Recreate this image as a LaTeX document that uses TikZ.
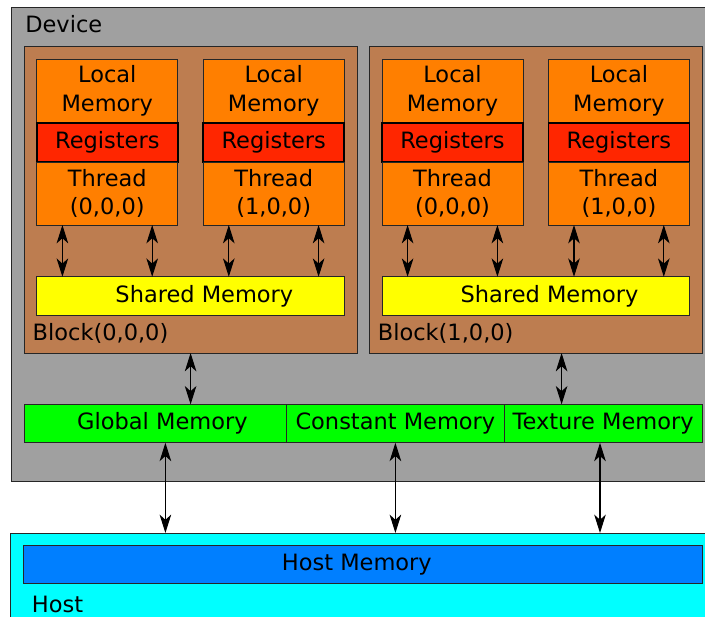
\documentclass[tikz,border=0pt]{standalone}
\usepackage{fontspec}
\setmainfont{DejaVu Sans}
\usetikzlibrary{positioning,arrows.meta}
\definecolor{devgray}{RGB}{160,160,160}
\definecolor{blockbrown}{RGB}{189,125,80}
\definecolor{threadorange}{RGB}{255,127,0}
\definecolor{regred}{RGB}{255,38,0}
\definecolor{sharedyellow}{RGB}{255,255,0}
\definecolor{globgreen}{RGB}{0,255,0}
\definecolor{hostcyan}{RGB}{0,255,255}
\definecolor{hostblue}{RGB}{0,127,255}
\begin{document}
\begin{tikzpicture}[
  box/.style={draw=black!85, line width=0.7pt, inner sep=0pt, outer sep=0pt, anchor=north west},
  link/.style={{Stealth[length=4.6mm,width=2.9mm,inset=1.3mm]}-{Stealth[length=4.6mm,width=2.9mm,inset=1.3mm]}, line width=0.75pt},
  font=\fontsize{16}{20.5}\selectfont]
\useasboundingbox (0,0) rectangle (17.625,-15.425);

\node[box, fill=devgray, minimum width=17.8cm, minimum height=11.84cm] (dev) at (0.275,-0.19) {};
\node[anchor=base west, inner sep=0pt] (devlbl) at (0.625,-0.825) {Device};

\node[box, fill=hostcyan, minimum width=17.8cm, minimum height=3cm] (host) at (0.27,-13.325) {};
\node[box, fill=hostblue, minimum width=16.975cm, minimum height=0.96cm] (hm) at (0.585,-13.63) {Host Memory\hspace*{0.3cm}};
\node[anchor=base west, inner sep=0pt] (hostlbl) at (0.79,-15.32) {Host};

\foreach \b/\x in {0/0.6, 1/9.23} {
  \node[box, fill=blockbrown, minimum width=8.33cm, minimum height=7.675cm] (blk\b) at (\x,-1.15) {};
  \node[anchor=base west, inner sep=0pt] (blklbl\b) at (\x+0.21,-8.525) {Block(\b,0,0)};
  \node[box, fill=sharedyellow, minimum width=7.68cm, minimum height=0.96cm] (sh\b) at (\x+0.32,-6.92) {\hspace*{0.7cm}Shared Memory};
  \foreach \t/\dx in {0/0.32, 1/4.48} {
    \node[box, fill=threadorange, minimum width=3.525cm, minimum height=1.59cm, align=center] (lm\b\t) at (\x+\dx,-1.48) {Local\\Memory};
    \node[box, fill=regred, draw=black, line width=1.1pt, minimum width=3.525cm, minimum height=0.98cm, below=0pt of lm\b\t] (rg\b\t) {Registers};
    \node[box, fill=threadorange, minimum width=3.525cm, minimum height=1.575cm, align=center, below=0pt of rg\b\t] (th\b\t) {Thread\\(\t,0,0)};
    \foreach \s/\a in {0.64/south west, -0.64/south east} {
      \coordinate (p) at ([xshift=\s cm]th\b\t.\a);
      \draw[link] (p) -- (p |- sh\b.north);
    }
  }
}

\node[box, fill=globgreen, minimum width=6.57cm, minimum height=0.96cm] (glob) at (0.6,-10.11) {\hspace*{0.35cm}Global Memory};
\node[box, fill=globgreen, minimum width=5.43cm, minimum height=0.96cm, right=0pt of glob] (const) {Constant Memory};
\node[box, fill=globgreen, minimum width=4.96cm, minimum height=0.96cm, right=0pt of const] (tex) {Texture Memory};

\coordinate (q0) at (blk0.south);
\coordinate (q1) at ([xshift=0.645cm]blk1.south);
\draw[link] (q0) -- (q0 |- glob.north);
\draw[link] (q1) -- (q1 |- tex.north);

\foreach \n/\s in {glob/0.25, const/0, tex/-0.08} {
  \coordinate (r) at ([xshift=\s cm]\n.south);
  \draw[link] (r) -- (r |- host.north);
}
\end{tikzpicture}
\end{document}
